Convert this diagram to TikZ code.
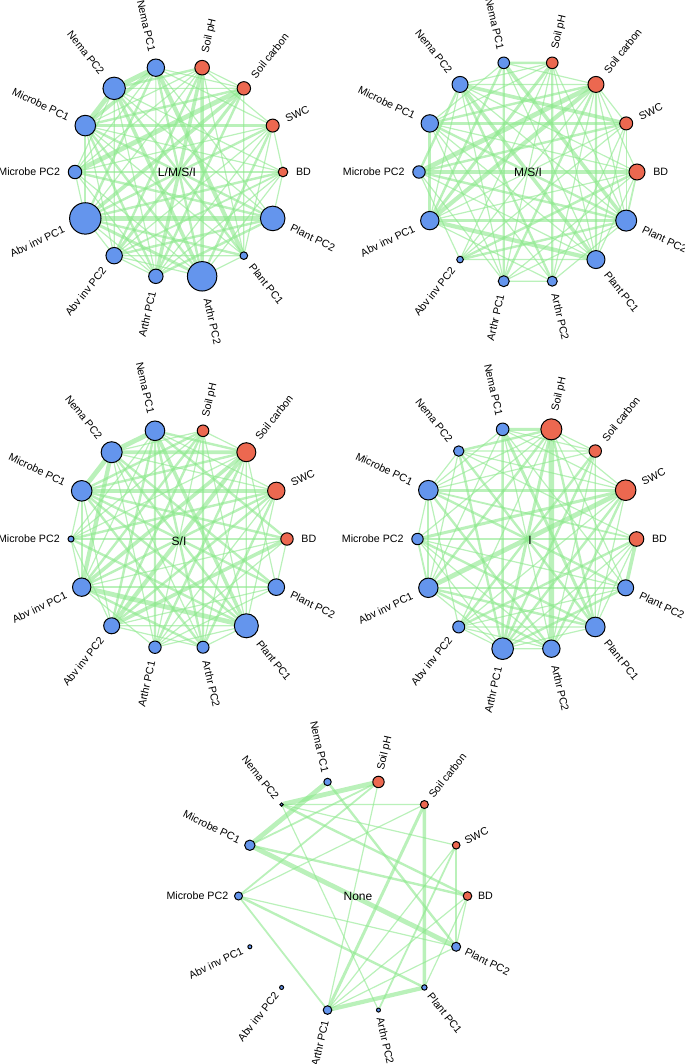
\documentclass[tikz,border=0pt]{standalone}
\usepackage{fontspec}
\setsansfont{Liberation Sans}
\usetikzlibrary{calc}
\definecolor{soil}{RGB}{236,104,80}
\definecolor{biota}{RGB}{100,149,237}
\definecolor{linkgreen}{RGB}{140,232,140}
\pgfdeclarelayer{bg}
\pgfsetlayers{bg,main}

\begin{document}
\begin{tikzpicture}[x=0.75pt, y=-0.75pt,
    vtx/.style={circle, draw=black, line width=0.75pt, fill=#1, inner sep=0pt, outer sep=0pt},
    lbl/.style={font=\fontsize{8}{9}\selectfont\sffamily, inner sep=0pt},
    ttl/.style={font=\fontsize{9}{10}\selectfont\sffamily},
    lnk/.style={draw=linkgreen, opacity=0.6}
]
\useasboundingbox (0,0) rectangle (685,1064);

% --- Vertices: one row per variable, radii for the five panels ---
\foreach \k/\id/\txt/\col/\za/\zb/\zc/\zd/\ze in {
    0/bd/BD/soil/4.8/8/6.2/7.3/4.3,
    1/swc/SWC/soil/6.5/6.5/8.7/10.3/3.8,
    2/sc/Soil carbon/soil/6.7/8/9.5/6.2/4,
    3/ph/Soil pH/soil/7.3/5.8/5.8/10.5/5.7,
    4/n1/Nema PC1/biota/8.7/5.8/9.8/6.3/3.7,
    5/n2/Nema PC2/biota/11.2/8/10.5/5.2/1.7,
    6/m1/Microbe PC1/biota/10.3/8.7/10.3/9.8/5.2,
    7/m2/Microbe PC2/biota/6.7/6.2/3/5.7/4,
    8/v1/Abv inv PC1/biota/15.7/9.2/9.2/9.7/2,
    9/v2/Abv inv PC2/biota/8.2/3.3/8/6/2,
    10/r1/Arthr PC1/biota/7.2/5.5/6.2/10.8/4.3,
    11/r2/Arthr PC2/biota/14.7/5/6/8.7/2,
    12/p1/Plant PC1/biota/3.8/9/12/9.8/2.7,
    13/p2/Plant PC2/biota/12.3/10.5/8.3/8/4.5}
{
  \pgfmathsetmacro\ang{\k*360/14}
  \pgfmathtruncatemacro\flip{cos(\ang)<0}
  \pgfmathsetmacro\rot{\ang-180*\flip}
  \pgfmathtruncatemacro\anc{180-180*\flip}
  \foreach \pn/\cx/\cy/\hr/\vr/\gap/\rr in {lms/179/172/104/107/8/\za, msi/528/172/109/112/8/\zb,
      si/179/539/108/111/8/\zc, i/527/539/109.5/112.5/8/\zd, none/353/896/114.5/117/6/\ze}
  {
    \pgfmathsetmacro\px{\cx+\hr*cos(\ang)}
    \pgfmathsetmacro\py{\cy-\vr*sin(\ang)}
    \node[vtx=\col, minimum size={1.5pt*\rr}] (\pn-\id) at (\px,\py) {};
    \node[lbl, rotate=\rot, anchor=\anc] (\pn-\id-t) at ($(\pn-\id)+(-\ang:\rr+\gap)$) {\txt};
  }
}

% --- Panel titles ---
\node[ttl] (lms-ttl) at (177,172) {L/M/S/I};
\node[ttl] (msi-ttl) at (528,172) {M/S/I};
\node[ttl] (si-ttl) at (179,541) {S/I};
\node[ttl] (i-ttl) at (530,540) {I};
\node[ttl] (none-ttl) at (358,896) {None};

\begin{pgfonlayer}{bg}
% --- Links: L/M/S/I ---
\foreach \u/\v/\w in {n2/n1/4, m1/n2/4, m1/n1/3, v1/p2/4, m2/sc/4, ph/r1/3, n1/p1/3.5, r2/n2/3, v1/sc/3, r2/ph/3,
    m1/swc/2.5, v1/bd/2, v1/p1/2, r2/m1/2, v2/p2/2, sc/v2/2.5, swc/v1/2, n2/ph/2, n1/r2/2, m1/r1/2, m2/bd/1.5,
    n2/p1/2, sc/r1/2, swc/r2/2, bd/v2/1.5, p2/m1/2, v1/r2/2.5, r1/p2/2, v2/ph/2, n1/v1/2, m2/p2/2, sc/m1/2,
    n1/r1/1, n1/p2/1, n1/sc/1, n1/swc/1, ph/v1/1, ph/m2/1, ph/p1/1, sc/p1/1, swc/m2/1, swc/v2/1, swc/r1/1,
    swc/p1/1, bd/r1/1, bd/m1/1, bd/n2/1, bd/r2/1, p2/n2/1, p1/m1/1, p1/v2/1, r2/m2/1, r2/v2/1, r1/m2/1,
    r1/v1/1, r1/n2/1, v2/m1/1, v2/n2/1, v1/m2/1, v1/m1/1.5, m2/n2/1, m2/n1/1, m1/ph/1, ph/sc/1, swc/bd/1,
    bd/p2/1, p1/r2/1, r1/v2/1, v2/v1/1, n2/sc/1, ph/swc/1}
  \draw[lnk, line width=0.9pt*\w] (lms-\u) -- (lms-\v);

% --- Links: M/S/I ---
\foreach \u/\v/\w in {m2/bd/4, m2/sc/4, v1/sc/3.5, n1/p2/3, n2/swc/3, v1/p1/3.5, n2/p1/3, ph/v1/2.5,
    m1/swc/2, n1/r1/2, sc/r1/2, sc/p1/2, n1/v1/2, n2/r2/2, m1/p2/2, m2/p2/2, v1/p2/2, sc/m1/2, swc/m2/2,
    ph/r2/2, bd/v2/2, p2/v2/2, v1/m1/2.5, n2/m2/2, n1/ph/2,
    n1/sc/1, n1/p1/1, n2/bd/1, n2/ph/1, n2/v1/1, n2/r1/1, n2/p2/1, m1/bd/1, m1/p1/1, m1/r1/1, m1/r2/1,
    m1/ph/1, m2/p1/1, m2/r1/1, m2/v2/1, v1/bd/1, v1/swc/1, v1/r2/1, v2/sc/1, v2/ph/1, v2/swc/1, v2/p1/1,
    r1/ph/1, r1/bd/1, r1/p2/1, r1/r2/1, r2/sc/1, r2/swc/1, r2/p2/1, p1/ph/1, p1/swc/1, p1/bd/1, p2/sc/1,
    p2/ph/1, p2/swc/1, bd/sc/1, sc/swc/1, p2/bd/1.5, n1/m1/1, n2/sc/1}
  \draw[lnk, line width=0.9pt*\w] (msi-\u) -- (msi-\v);

% --- Links: S/I ---
\foreach \u/\v/\w in {n2/n1/4, n2/m1/4, n2/v1/3.5, m1/swc/3, n2/sc/3, v1/p1/4, v2/sc/3.5, n1/p1/3, bd/v2/3,
    sc/v1/3, n1/r1/2, n1/r2/2, n1/sc/2, n1/bd/2, ph/v1/2, ph/v2/2, ph/r2/2, ph/m1/2, sc/r1/2, sc/m1/2,
    swc/v1/2, swc/v2/2, swc/m2/2, swc/r2/2, bd/m1/2, p2/n2/2, p2/v1/2, p2/m1/2, p1/m1/2, p1/n2/2, p1/m2/2,
    r2/v1/2, r2/m1/2, v1/m1/2, v2/n1/2,
    r1/p1/1, n1/swc/1, n1/m2/1, n1/v1/1, ph/r1/1, ph/p1/1, ph/m2/1, ph/n2/1, sc/p1/1, sc/r2/1, sc/m2/1,
    swc/r1/1, swc/p1/1, swc/n2/1, bd/r1/1, bd/v1/1, bd/m2/1, bd/p2/1, p2/v2/1, p2/r1/1, p2/sc/1, p1/v2/1,
    p1/r2/1, r2/v2/1, r2/n2/1, r1/v1/1, r1/n2/1, v2/m1/1, v2/m2/1, m2/m1/1, m2/v1/1, ph/sc/1}
  \draw[lnk, line width=0.9pt*\w] (si-\u) -- (si-\v);

% --- Links: I ---
\foreach \u/\v/\w in {ph/r2/4.5, swc/v1/4, bd/p2/3, swc/m2/2.5, n2/ph/2, m1/swc/2.5, r1/ph/2.5, r1/sc/2,
    n1/p1/2.5, n1/ph/2.5, m1/p2/2, bd/v2/2, n2/p1/2, n1/r1/2, v1/p2/2, v1/p1/2, m2/p1/2, ph/v1/2, ph/p1/2,
    sc/v2/2, swc/r1/2, swc/r2/2, r1/p2/2, m1/r2/2, n2/r1/2, v1/r2/2, bd/m1/1.5,
    n1/m1/1, n1/r2/1, n1/swc/1, n1/sc/1, n1/v1/1, n2/swc/1, n2/sc/1, n2/m1/1, n2/v1/1, n2/bd/1, ph/m1/1,
    ph/m2/1, ph/v2/1, ph/p2/1, ph/sc/1, ph/swc/1, sc/m1/1, sc/r2/1, sc/p1/1, swc/p1/1, swc/v2/1, bd/r1/1,
    bd/r2/1, bd/p1/1, bd/m2/1, p2/v2/1, p2/m2/1, p2/n1/1, p1/v2/1, p1/r1/1, r2/v2/1, r2/m2/1, r1/v1/1,
    r1/m2/1, r1/v2/1, v2/m1/1, v1/m1/1.5, v1/m2/1.5, m2/m1/1, r1/r2/1}
  \draw[lnk, line width=0.9pt*\w] (i-\u) -- (i-\v);

% --- Links: None ---
\foreach \u/\v/\w in {n2/ph/4, m1/n1/4, m1/ph/1.5, n2/sc/1, n2/swc/1, n2/bd/2, n2/r2/1, n1/p2/2, ph/m2/1.5,
    ph/r1/1, m2/sc/1, sc/r1/2.5, sc/p1/3, swc/r2/1.5, swc/p2/2, swc/r1/1, bd/p1/1, bd/p2/1, m1/bd/2,
    m1/p2/4, m2/p2/1, m2/p1/2, m2/r1/1.5, r1/p1/3.5, r1/p2/1, r1/bd/1}
  \draw[lnk, line width=0.9pt*\w] (none-\u) -- (none-\v);
\end{pgfonlayer}
\end{tikzpicture}
\end{document}
